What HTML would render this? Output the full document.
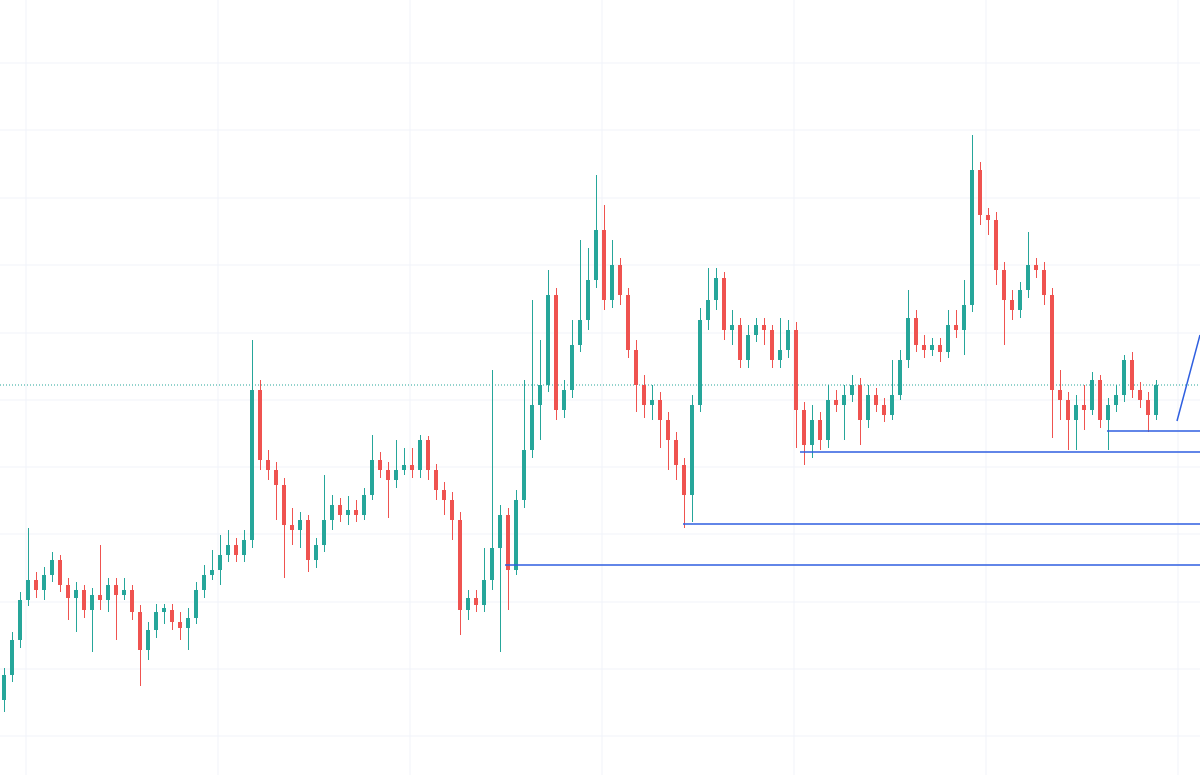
<!DOCTYPE html>
<html><head><meta charset="utf-8"><style>html,body{margin:0;padding:0;background:#fff;overflow:hidden}svg{display:block}</style></head>
<body>
<svg width="1200" height="775" xmlns="http://www.w3.org/2000/svg">
<g stroke="#f0f3fa" stroke-width="1">
<path d="M26 0V775M218 0V775M410 0V775M602 0V775M794 0V775M986 0V775M1178 0V775"/>
<path d="M0 63H1200M0 130H1200M0 198H1200M0 265H1200M0 333H1200M0 400H1200M0 467H1200M0 534H1200M0 602H1200M0 669H1200M0 736H1200"/>
</g>
<line x1="0" y1="385" x2="1200" y2="385" stroke="#26a69a" stroke-width="1" stroke-dasharray="1,2"/>
<path transform="translate(0.5,0)" fill="none" stroke="#26a69a" stroke-width="1" d="M4 668V712M12 632V682M20 592V648M28 528V606M44 567V600M52 552V582M76 582V632M92 588V652M108 578V612M124 578V600M148 622V660M156 604V638M164 604V624M188 608V650M196 582V624M204 565V598M212 550V580M220 535V585M228 530V562M244 530V562M252 340V548M300 512V548M316 538V568M324 475V552M332 495V530M348 496V525M364 488V520M372 435V500M396 440V488M404 448V475M420 435V478M468 590V620M484 548V612M492 370V590M500 505V652M516 490V575M524 380V508M532 300V458M540 340V440M548 270V392M564 380V418M572 320V398M580 240V352M588 248V330M596 175V288M612 240V308M652 385V420M692 395V522M700 308V412M708 268V330M716 268V310M732 310V345M748 325V368M756 318V342M780 318V368M788 320V358M812 405V458M828 385V448M844 385V440M852 375V402M868 385V428M892 360V420M900 350V400M908 290V368M932 338V356M948 310V358M964 280V355M972 135V312M1020 282V318M1028 232V298M1076 395V450M1092 372V415M1108 398V450M1116 385V412M1124 355V402M1156 380V420"/>
<path fill="none" stroke="#26a69a" stroke-width="4" d="M4 700V675M12 675V640M20 640V600M28 600V580M44 590V575M52 575V560M76 598V590M92 610V595M108 600V585M124 595V590M148 650V630M156 630V612M164 612V608M188 628V618M196 618V590M204 590V575M212 575V570M220 570V555M228 555V545M244 555V540M252 540V390M300 530V520M316 560V545M324 545V520M332 520V505M348 515V510M364 515V495M372 495V460M396 480V470M404 470V465M420 470V440M468 610V598M484 605V580M492 580V548M500 548V515M516 570V500M524 500V450M532 450V405M540 405V385M548 385V295M564 410V390M572 390V345M580 345V320M588 320V280M596 280V230M612 300V265M652 405V400M692 495V405M700 405V320M708 320V300M716 300V278M732 330V325M748 360V335M756 335V325M780 360V350M788 350V330M812 445V420M828 440V400M844 405V395M852 395V385M868 420V395M892 415V395M900 395V360M908 360V318M932 350V345M948 352V325M964 330V305M972 305V170M1020 310V290M1028 290V265M1076 420V405M1092 410V380M1108 420V405M1116 405V395M1124 395V360M1156 415V385"/>
<path transform="translate(0.5,0)" fill="none" stroke="#ef5350" stroke-width="1" d="M36 572V598M60 555V592M68 578V620M84 585V618M100 545V610M116 578V640M132 585V620M140 605V686M172 604V630M180 612V640M236 538V562M260 380V470M268 450V480M276 462V520M284 478V578M292 508V545M308 515V572M340 498V522M356 500V522M380 452V478M388 462V518M412 448V478M428 436V480M436 464V500M444 482V515M452 492V540M460 512V635M476 590V612M508 508V610M556 288V420M604 205V310M620 258V305M628 288V358M636 340V412M644 375V418M660 392V448M668 412V470M676 432V480M684 458V528M724 272V340M740 318V368M764 318V345M772 325V368M796 322V448M804 402V465M820 412V450M836 390V412M860 378V445M876 388V412M884 398V422M916 310V352M924 335V358M940 338V362M956 310V338M980 162V225M988 208V235M996 212V285M1004 262V345M1012 290V320M1036 258V278M1044 262V305M1052 288V438M1060 370V420M1068 392V450M1084 385V430M1100 375V428M1132 352V398M1140 382V408M1148 392V432"/>
<path fill="none" stroke="#ef5350" stroke-width="4" d="M36 580V590M60 560V585M68 585V598M84 590V610M100 595V600M116 585V595M132 590V612M140 612V650M172 610V622M180 622V628M236 545V555M260 390V460M268 460V470M276 470V485M284 485V525M292 525V530M308 520V560M340 505V515M356 510V515M380 460V470M388 470V480M412 465V470M428 440V470M436 470V490M444 490V500M452 500V520M460 520V610M476 598V605M508 515V570M556 295V410M604 230V300M620 265V295M628 295V350M636 350V385M644 385V405M660 400V420M668 420V440M676 440V465M684 465V495M724 278V330M740 325V360M764 325V330M772 330V360M796 330V410M804 410V445M820 420V440M836 400V405M860 385V420M876 395V405M884 405V415M916 318V345M924 345V350M940 345V352M956 325V330M980 170V215M988 215V220M996 220V270M1004 270V300M1012 300V310M1036 265V270M1044 270V295M1052 295V390M1060 390V400M1068 400V420M1084 405V410M1100 380V420M1132 360V390M1140 390V400M1148 400V415"/>
<g stroke="#2f5fe0" stroke-width="1.5">
<line x1="800" y1="452" x2="1200" y2="452"/>
<line x1="683" y1="524" x2="1200" y2="524"/>
<line x1="505" y1="565" x2="1200" y2="565"/>
<line x1="1107" y1="431" x2="1200" y2="431"/>
<line x1="1177" y1="421" x2="1200" y2="335"/>
</g>
</svg>
</body></html>
